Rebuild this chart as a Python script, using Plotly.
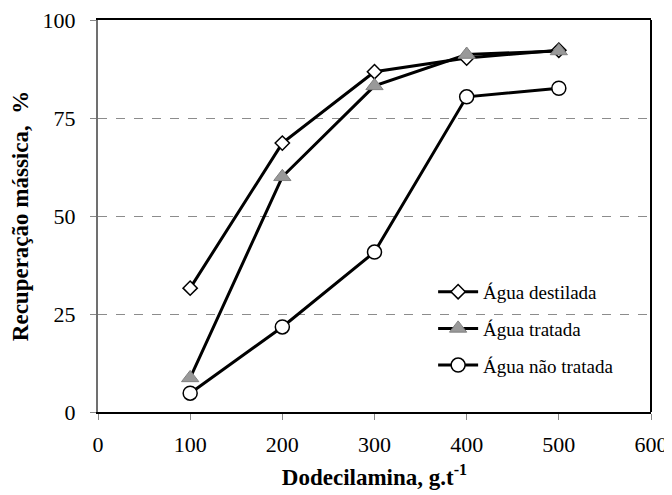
import plotly.graph_objects as go

x_vals = [100, 200, 300, 400, 500]
agua_destilada = [31.6, 68.6, 86.8, 90.3, 92.3]
agua_tratada = [8.7, 60.0, 83.2, 91.2, 92.1]
agua_nao_tratada = [4.8, 21.7, 40.8, 80.4, 82.6]
series_names = ["Água destilada", "Água tratada", "Água não tratada"]
x_ticks = [0, 100, 200, 300, 400, 500, 600]
y_ticks = [0, 25, 50, 75, 100]

FONT = "Liberation Serif, Times New Roman, serif"

fig = go.Figure()
fig.add_trace(go.Scatter(x=x_vals, y=agua_destilada, name=series_names[0], mode="lines+markers",
                         legendgroup="a",
                         line=dict(color="black", width=3),
                         marker=dict(symbol="diamond", size=11, color="white", line=dict(color="black", width=1.5))))
fig.add_trace(go.Scatter(x=x_vals, y=agua_tratada, name=series_names[1], mode="lines+markers",
                         legendgroup="b",
                         line=dict(color="black", width=3),
                         marker=dict(symbol="triangle-up", size=15, color="#999999", line=dict(color="#808080", width=1))))
fig.add_trace(go.Scatter(x=x_vals, y=agua_nao_tratada, name=series_names[2], mode="lines+markers",
                         legendgroup="c",
                         line=dict(color="black", width=3),
                         marker=dict(symbol="circle", size=14, color="white", line=dict(color="black", width=1.5))))

# right frame edge in black
fig.add_shape(type="line", xref="paper", yref="paper", x0=1, x1=1, y0=0, y1=1,
              line=dict(color="black", width=2))

fig.update_layout(
    width=672, height=495,
    margin=dict(l=90, r=29, t=12, b=91),
    paper_bgcolor="white", plot_bgcolor="white",
    font=dict(family=FONT, size=22, color="black"),
    showlegend=True,
    legend=dict(x=0.606, y=0.355, xanchor="left", yanchor="top", bgcolor="rgba(0,0,0,0)",
                font=dict(family=FONT, size=19), traceorder="grouped", tracegroupgap=9, itemwidth=40),
    xaxis=dict(range=[0, 600], tickvals=x_ticks, showgrid=False,
               showline=True, linecolor="black", linewidth=2, mirror=True, automargin=False,
               ticks="outside", ticklen=6, tickcolor="#888888", zeroline=False, ticklabelstandoff=6,
               tickfont=dict(size=22), ticklabeloverflow="allow",
               title=dict(text="<b>Dodecilamina, g.t<sup>-1</sup></b>", font=dict(size=23), standoff=12)),
    yaxis=dict(range=[0, 100], tickvals=y_ticks, showgrid=True,
               gridcolor="#8c8c8c", griddash="dash", gridwidth=1, automargin=False,
               showline=True, linecolor="#707070", linewidth=2, mirror=False,
               ticks="outside", ticklen=6, tickcolor="#888888", zeroline=False, ticklabelstandoff=10,
               tickfont=dict(size=22), ticklabeloverflow="allow",
               title=dict(text="<b>Recuperação mássica,  %</b>", font=dict(size=23), standoff=15)),
)

fig.write_html("out.html")
